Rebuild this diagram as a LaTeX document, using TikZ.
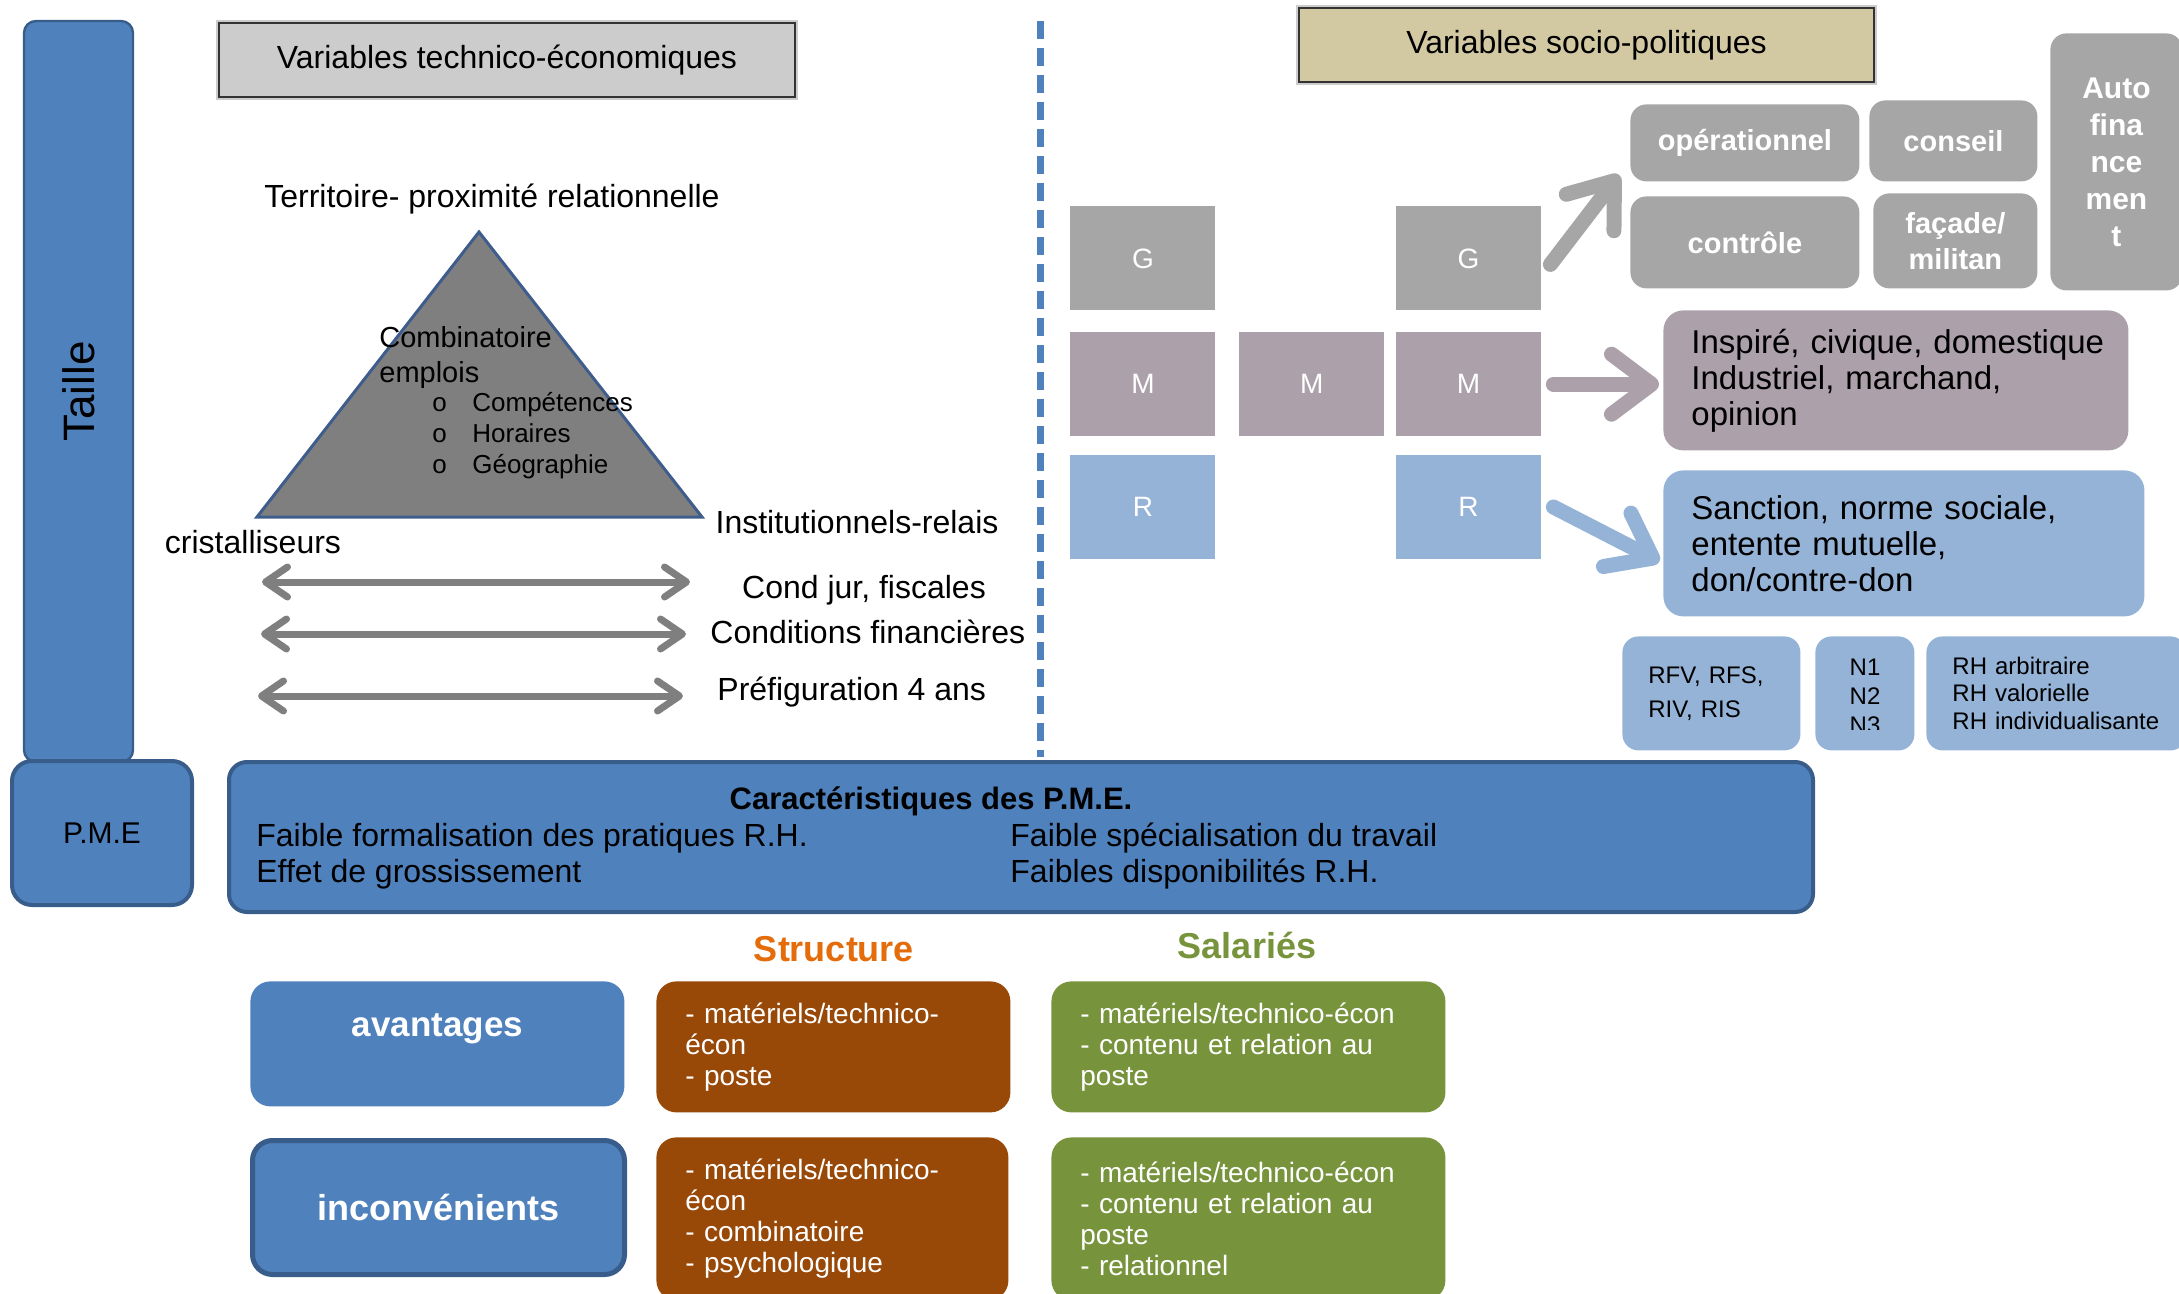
\documentclass[tikz,border=0pt]{standalone}
\usepackage{fontspec}
\setmainfont{Liberation Sans}
\usepackage{xcolor}
\usepackage{tikz}
\usetikzlibrary{
  arrows.meta,
  positioning,
  calc,
}

\definecolor{pmeblue}{HTML}{4F81BD}
\definecolor{pmeedge}{HTML}{385D8A}
\definecolor{techgray}{HTML}{CCCCCC}
\definecolor{sociokhaki}{HTML}{D2C9A2}
\definecolor{ggray}{HTML}{A6A6A6}
\definecolor{mmauve}{HTML}{ACA1AA}
\definecolor{rblue}{HTML}{95B3D7}
\definecolor{trigray}{HTML}{7F7F7F}
\definecolor{triedge}{HTML}{3F5D8C}
\definecolor{structbrown}{HTML}{984807}
\definecolor{salgreen}{HTML}{77933C}
\definecolor{structorange}{HTML}{E46C0A}

\newcommand{\fsz}[2]{\fontsize{#1}{#2}\selectfont}

\begin{document}
\begin{tikzpicture}[
  x=0.5pt, y=-0.5pt,
  every node/.style={font=\fsz{16}{19}, inner sep=0pt},
  blueblock/.style={
    rectangle, draw=pmeedge, line width=2pt,
    fill=pmeblue, rounded corners=9pt,
  },
  titlebox/.style={
    rectangle, draw=black!80, line width=1pt,
    preaction={draw=black!20, line width=3pt},
    minimum width=288pt, minimum height=37pt, anchor=north west,
  },
  gmrsq/.style={
    rectangle, minimum width=72.5pt, minimum height=52pt,
    text=white, font=\fsz{14}{17},
  },
  tagbox/.style={
    rectangle, rounded corners=8pt, fill=ggray, anchor=north west,
    text=white, font=\bfseries\fsz{14.5}{18}, align=center,
  },
  panel/.style={
    rectangle, rounded corners=10pt, anchor=north west,
    align=left, font=\fsz{16.5}{18}, inner xsep=14pt,
  },
  smallbox/.style={
    rectangle, rounded corners=8pt, fill=rblue, anchor=north west,
    align=left, font=\fsz{12}{14},
  },
  cellbox/.style={
    rectangle, rounded corners=10pt, anchor=north west,
    text=white, align=left, font=\fsz{14}{15.5}, inner xsep=14.5pt,
  },
  dblarrow/.style={
    {Straight Barb[length=11pt,width=15pt,round]}-{Straight Barb[length=11pt,width=15pt,round]},
    line width=3.5pt, draw=trigray,
  },
  bigarrow/.style={-{Straight Barb[length=20pt,width=30pt,round]}, line width=7.5pt, line cap=round},
]
  \useasboundingbox (0,0) rectangle (2179,1294);

  % Size axis and P.M.E
  \node[blueblock, rotate=90, line width=1.2pt, rounded corners=6pt,
        minimum width=370.5pt, minimum height=54.5pt, font=\fsz{22}{26}] (taille) at (78.5,391.5) {Taille};
  \node[blueblock, rounded corners=10pt, minimum width=90pt, minimum height=72pt,
        anchor=north west, font=\fsz{15}{18}] (pme) at (10,759) {P.M.E};

  % Column titles
  \node[titlebox, fill=techgray] (techtitle) at (218,22) {Variables technico-économiques};
  \node[titlebox, fill=sociokhaki, minimum width=287.5pt] (sociotitle) at (1298,7) {Variables socio-politiques};

  % Divider
  \coordinate (divtop) at (1040,21);
  \coordinate (divbot) at (1040,757);
  \draw[pmeblue, line width=3.5pt, dash pattern=on 9pt off 4.5pt] (divtop) -- (divbot);

  % Triangle of actors
  \node (territoire) at (492,199) {Territoire- proximité relationnelle};
  \draw[fill=trigray, draw=triedge, line width=1.5pt] (479,232) coordinate (apex)
    -- (702,517) coordinate (baseR) -- (257,517) coordinate (baseL) -- cycle;
  \node[anchor=north west, align=left, font=\fsz{14.5}{17.5}] (combi) at (379,326) {Combinatoire\\emplois};
  \node[anchor=north west, align=left, font=\fsz{13}{15.5}] (combilist) at (432,392)
    {\makebox[20pt][l]{o}Compétences\\\makebox[20pt][l]{o}Horaires\\\makebox[20pt][l]{o}Géographie};
  \node (cristal) at (253,542) {cristalliseurs};
  \node (instit) at (857,522) {Institutionnels-relais};

  % Conditions
  \coordinate (jurL) at (262,582);  \coordinate (jurR) at (690,582);
  \coordinate (finL) at (261,634);  \coordinate (finR) at (686,634);
  \coordinate (preL) at (258,696);  \coordinate (preR) at (683,696);
  \draw[dblarrow] (jurL) -- (jurR);
  \draw[dblarrow] (finL) -- (finR);
  \draw[dblarrow] (preL) -- (preR);
  \node (jur) at (864,590) {Cond jur, fiscales};
  \node[anchor=west] (fin) at (710,632) {Conditions financières};
  \node[anchor=west] (prefig) at (717,692) {Préfiguration 4 ans};

  % G / M / R squares
  \node[gmrsq, fill=ggray, anchor=north west] (g1) at (1070,206) {G};
  \node[gmrsq, fill=mmauve, below=10.5pt of g1] (m1) {M};
  \node[gmrsq, fill=rblue, below=9pt of m1] (r1) {R};
  \node[gmrsq, fill=mmauve, right=11.5pt of m1] (m2) {M};
  \node[gmrsq, fill=mmauve, right=5.5pt of m2] (m3) {M};
  \node[gmrsq, fill=ggray, above=10.5pt of m3] (g3) {G};
  \node[gmrsq, fill=rblue, below=9pt of m3] (r3) {R};

  % Roles
  \node[tagbox, minimum width=114.5pt, minimum height=38.5pt] (oper) at (1630,104) {opérationnel};
  \node[tagbox, minimum width=84pt, minimum height=40.5pt] (conseil) at (1869,100) {conseil};
  \node[tagbox, minimum width=114.5pt, minimum height=46pt] (controle) at (1630,196) {contrôle};
  \node[tagbox, minimum width=82pt, minimum height=47.5pt] (facade) at (1873,193) {façade/\\militan};
  \node[tagbox, minimum width=66pt, minimum height=128.5pt, font=\bfseries\fsz{15}{18.5}] (autofin) at (2050,33) {Auto\\fina\\nce\\men\\t};

  % Worlds and regulation
  \node[panel, fill=mmauve, minimum width=232.5pt, minimum height=70pt, text width=204.5pt] (inspire) at (1663,310)
    {\mbox{Inspiré, civique, domestique}\\Industriel, marchand,\\opinion};
  \node[panel, fill=rblue, minimum width=240.5pt, minimum height=73pt, text width=212.5pt] (sanction) at (1663,470)
    {\mbox{Sanction, norme sociale,}\\entente mutuelle,\\don/contre-don};
  \node[smallbox, minimum width=89pt, minimum height=57pt, inner xsep=13pt, text width=63pt, font=\fsz{12}{17}] (rfv) at (1622,636) {RFV, RFS,\\RIV, RIS};
  \node[smallbox, minimum width=49.5pt, minimum height=57pt] (nlevel) at (1815,636) {};
  \begin{scope}
    \clip (nlevel.north west) rectangle ([yshift=10.5pt]nlevel.south east);
    \node[align=center, font=\fsz{12}{14.5}] (nlist) at (1865,696) {N1\\N2\\N3};
  \end{scope}
  \node[smallbox, minimum width=130pt, minimum height=57pt, inner xsep=13pt, text width=104pt, font=\fsz{12}{13.75}] (rhtypes) at (1926,636)
    {RH arbitraire\\RH valorielle\\\mbox{RH individualisante}};

  % Arrows: squares -> roles / worlds / regulation
  \draw[bigarrow, ggray] ([xshift=4.5pt,yshift=-3pt]g3.east) -- ([xshift=-5.5pt,yshift=3.5pt]oper.south west);
  \draw[bigarrow, mmauve, shorten >=2pt] ([xshift=6pt]m3.east) -- (m3.east -| inspire.west);
  \draw[bigarrow, rblue, shorten >=2pt] ([xshift=6pt]r3.east) -- ([yshift=-10pt]sanction.west);

  % Characteristics of P.M.E.
  \node[blueblock, minimum width=792pt, minimum height=75pt, anchor=north west] (carac) at (227,760) {};
  \node[font=\bfseries\fsz{15.5}{18}] (caractitle) at (931,801) {Caractéristiques des P.M.E.};
  \node[anchor=west, align=left, font=\fsz{16}{18}] (caracleft) at (256,856)
    {Faible formalisation des pratiques R.H.\\Effet de grossissement};
  \node[anchor=west, align=left, font=\fsz{16}{18}] (caracright) at (1010,856)
    {Faible spécialisation du travail\\Faibles disponibilités R.H.};

  % Advantages / drawbacks
  \node[font=\bfseries\fsz{18}{21}, text=structorange] (structure) at (834,949) {Structure};
  \node[font=\bfseries\fsz{18}{21}, text=salgreen] (salaries) at (1247,945) {Salariés};
  \node[rectangle, rounded corners=10pt, fill=pmeblue, minimum width=187pt, minimum height=62.5pt, anchor=north west,
        text=white, font=\bfseries\fsz{17.5}{20}, text depth=19pt] (avantages) at (250,981) {avantages};
  \node[blueblock, line width=2.5pt, rounded corners=10pt, minimum width=186pt, minimum height=67pt, anchor=north west,
        text=white, font=\bfseries\fsz{18}{21}] (inconv) at (250,1138) {inconvénients};

  \node[cellbox, fill=structbrown, minimum width=177pt, minimum height=65.5pt, text width=148pt] (stravant) at (656,981)
    {- matériels/technico-\\écon\\- poste};
  \node[cellbox, fill=structbrown, minimum width=176pt, minimum height=81.5pt, text width=147pt] (strinconv) at (656,1137)
    {- matériels/technico-\\écon\\- combinatoire\\- psychologique};
  \node[cellbox, fill=salgreen, minimum width=197pt, minimum height=65.5pt, text width=168pt] (salavant) at (1051,981)
    {- matériels/technico-écon\\- contenu et relation au\\poste};
  \node[cellbox, fill=salgreen, minimum width=197pt, minimum height=81.5pt, text width=168pt] (salinconv) at (1051,1137)
    {- matériels/technico-écon\\- contenu et relation au\\poste\\- relationnel};

\end{tikzpicture}
\end{document}
